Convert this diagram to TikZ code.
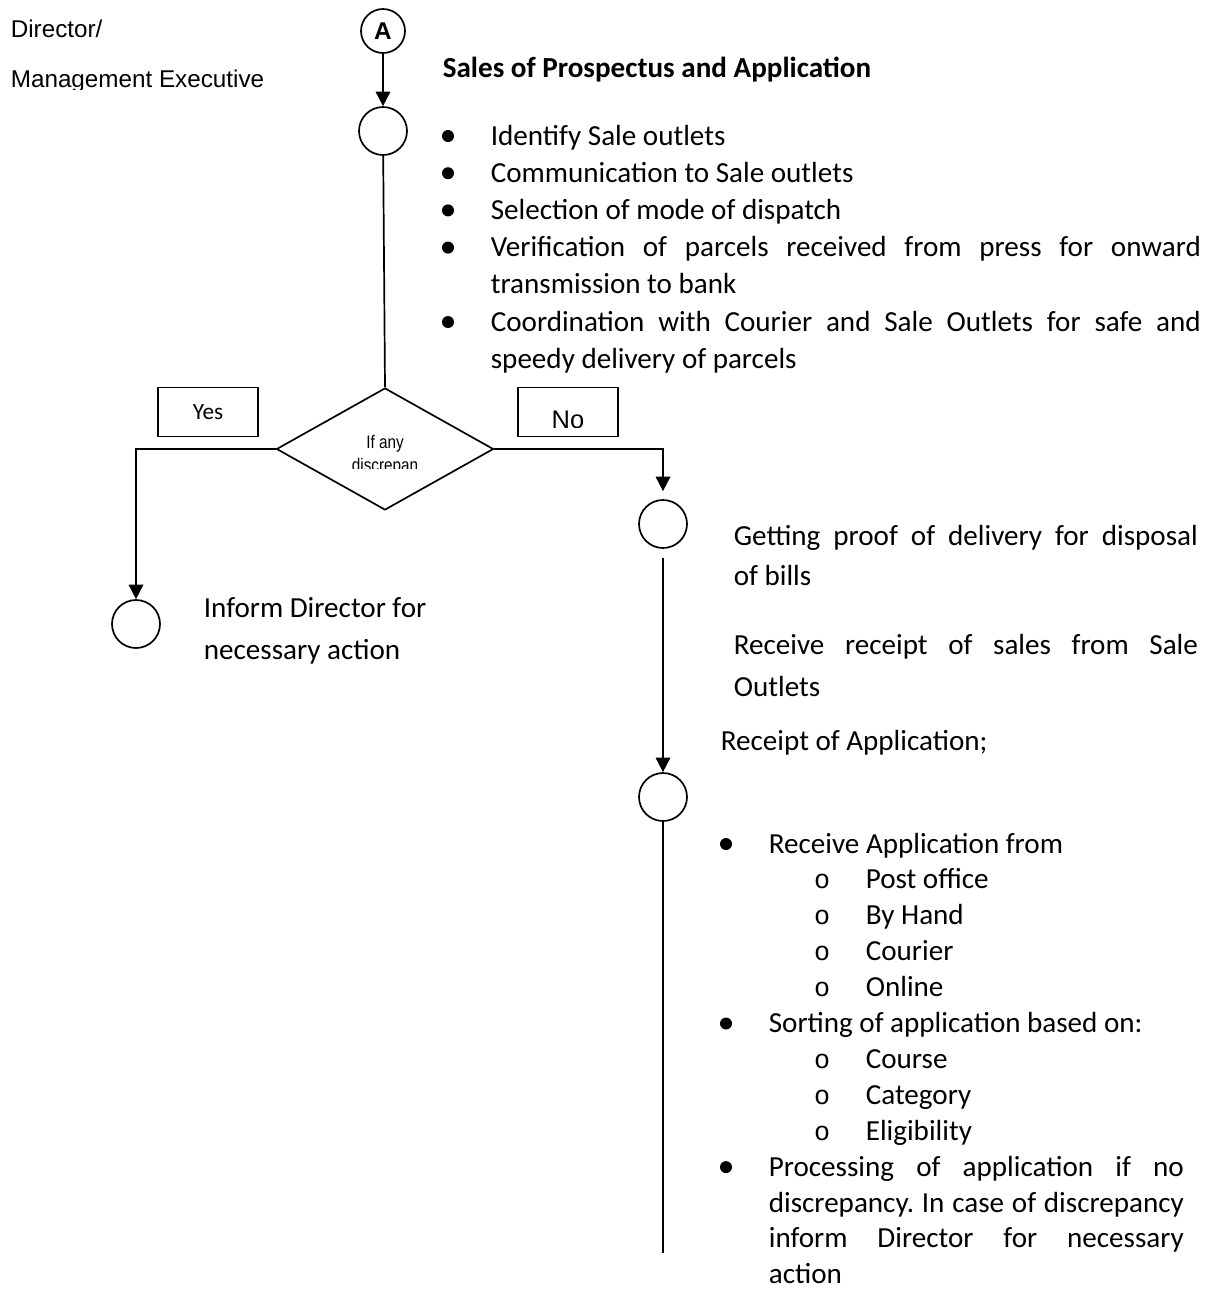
\documentclass[tikz,border=0pt]{standalone}
\usepackage{fontspec}
\setmainfont{Carlito}
\newfontfamily\arialfont{Liberation Sans}
\newfontfamily\narrowfont[FakeStretch=0.84]{Liberation Sans}
\newfontfamily\monofont{Liberation Mono}
\usetikzlibrary{shapes.geometric,
	arrows.meta,
	calc,
	positioning}

\newdimen\pxu
\pxu=0.0145cm
\newcommand{\jline}[2]{\makebox[#1\pxu][s]{#2}}
\newcommand{\bodyfont}{\fontsize{12pt}{14pt}\selectfont}
\frenchspacing

\tikzset{
	state/.style={circle, draw, minimum size=48\pxu, inner sep=0pt},
	decision/.style={diamond, draw, minimum width=217\pxu, minimum height=122\pxu, inner sep=0pt},
	lbl/.style={draw, minimum width=100\pxu, minimum height=49\pxu, inner sep=0pt},
	txt/.style={anchor=base west, inner sep=0pt, font=\bodyfont},
	dot/.style={circle, fill, inner sep=0pt, minimum size=12\pxu, yshift=9\pxu},
	subdot/.style={anchor=base, inner sep=0pt, font=\monofont\fontsize{11pt}{13pt}\selectfont},
	arial/.style={anchor=base west, inner sep=0pt, font=\arialfont\fontsize{10pt}{12pt}\selectfont},
	arr/.style={-{Triangle[length=6pt, width=6pt]}}
}

\begin{document}
\begin{tikzpicture}[x=0.0145cm, y=-0.0145cm, line width=0.7pt]
	\useasboundingbox (0,0) rectangle (1215,1291);

	% role on the left
	\node[arial] (dir) at (10,37) {Director/};
	\begin{scope}
		\clip (0,60) rectangle (300,89);
		\node[arial] (mgmt) at (10,87) {Management Executive};
	\end{scope}

	% main column
	\node[state, minimum size=44\pxu, font=\arialfont\bfseries\fontsize{10pt}{11pt}\selectfont] (A) at (383,31) {A};
	\node[state] (c1) at (383,131) {};
	\node[decision] (dec) at (385,449) {};
	\node[anchor=base, inner sep=0pt, font=\narrowfont\fontsize{7.5pt}{9pt}\selectfont] (q1) at (385,448) {If any};
	\begin{scope}
		\clip (300,430) rectangle (470,468);
		\node[anchor=base, inner sep=0pt, font=\narrowfont\fontsize{7.5pt}{9pt}\selectfont] (q2) at (385,471) {discrepan};
	\end{scope}

	\node[lbl, font=\fontsize{9.6pt}{11pt}\selectfont] (yes) at (208,412) {Yes};
	\node[lbl] (no) at (568,412) {};
	\begin{scope}
		\clip (no.north west) rectangle ($(no.east)+(0,15)$);
		\node[anchor=base, inner sep=0pt, font=\arialfont\fontsize{10.5pt}{12pt}\selectfont] (notext) at (568,428) {No};
	\end{scope}

	\node[state] (c3) at (136,624) {};
	\node[state] (c2) at (663,524) {};
	\node[state] (c4) at (663,797) {};
	\coordinate (lineend) at (663,1253);

	\draw[arr] (A) -- (c1);
	\draw (c1) -- (dec.north);
	\draw[arr] (dec.west) -| (c3.north);
	\draw[arr, shorten >=8\pxu] (dec.east) -| (c2.north);
	\draw[arr, shorten <=9\pxu] (c2) -- (c4);
	\draw (c4) -- (lineend);

	% sales of prospectus
	\node[txt, font=\bfseries\bodyfont] (title) at (442,77) {Sales of Prospectus and Application};
	\foreach \y [count=\i] in {145,182.2,219.4,256.6,331}
		\node[dot] (b\i) at (448,\y) {};
	\node[txt] (s1) at (490,145) {Identify Sale outlets};
	\node[txt] (s2) at (490,182.2) {Communication to Sale outlets};
	\node[txt] (s3) at (490,219.4) {Selection of mode of dispatch};
	\node[txt] (s4) at (490,256.6) {\jline{710}{Verification of parcels received from press for onward}};
	\node[txt] (s4b) at (490,293.8) {transmission to bank};
	\node[txt] (s5) at (490,331) {\jline{710}{Coordination with Courier and Sale Outlets for safe and}};
	\node[txt] (s5b) at (490,368.2) {speedy delivery of parcels};

	% yes branch
	\node[txt] (inf1) at (203,617) {Inform Director for};
	\node[txt] (inf2) at (203,659) {necessary action};

	% no branch
	\node[txt] (g1) at (733,545) {\jline{464}{Getting proof of delivery for disposal}};
	\node[txt] (g2) at (733,585) {of bills};
	\node[txt] (r1) at (733,654) {\jline{464}{Receive receipt of sales from Sale}};
	\node[txt] (r2) at (733,696) {Outlets};
	\node[txt] (rapp) at (720,750) {Receipt of Application;};

	\foreach \i in {0,5,9}
		\node[dot] (d\i) at (726,{853+\i*35.9}) {};
	\node[txt] (a0) at (768,853) {Receive Application from};
	\foreach \t [count=\i] in {Post office,By Hand,Courier,Online} {
		\node[subdot] (o\i) at (822,{853+\i*35.9}) {o};
		\node[txt] (a\i) at (865,{853+\i*35.9}) {\t};
	}
	\node[txt] (a5) at (768,{853+5*35.9}) {Sorting of application based on:};
	\foreach \t [count=\i from 6] in {Course,Category,Eligibility} {
		\node[subdot] (o\i) at (822,{853+\i*35.9}) {o};
		\node[txt] (a\i) at (865,{853+\i*35.9}) {\t};
	}
	\node[txt] (a9) at (768,{853+9*35.9}) {\jline{415}{Processing of application if no}};
	\node[txt] (a10) at (768,{853+10*35.9}) {\jline{415}{discrepancy. In case of discrepancy}};
	\node[txt] (a11) at (768,{853+11*35.9}) {\jline{415}{inform Director for necessary}};
	\node[txt] (a12) at (768,{853+12*35.9}) {action};
\end{tikzpicture}
\end{document}
